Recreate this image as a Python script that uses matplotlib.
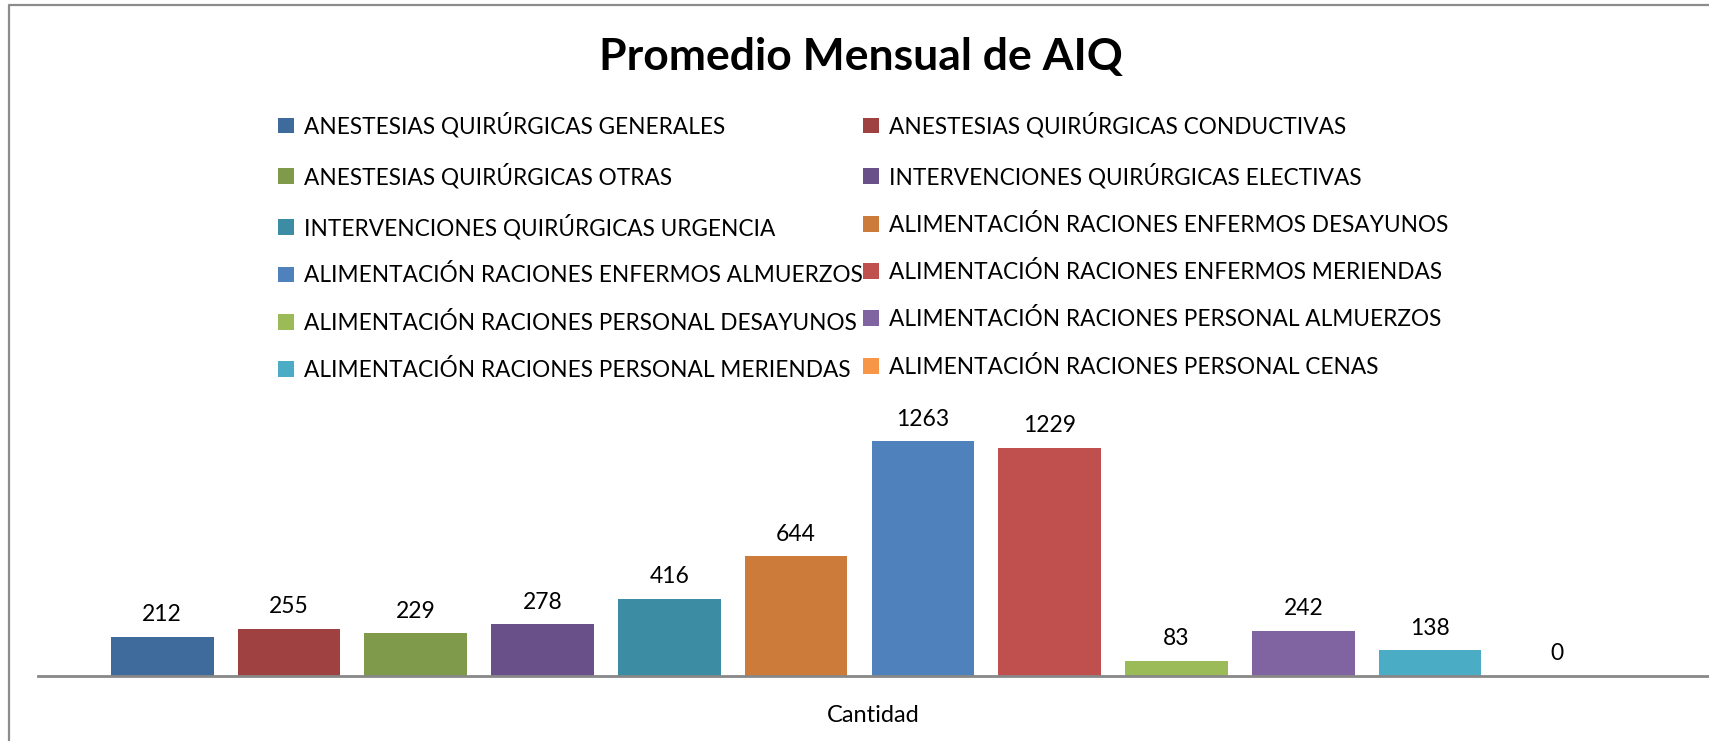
import matplotlib.pyplot as plt
from matplotlib.lines import Line2D

# Monthly averages per service line
series = [
    "ANESTESIAS QUIRÚRGICAS GENERALES",
    "ANESTESIAS QUIRÚRGICAS CONDUCTIVAS",
    "ANESTESIAS QUIRÚRGICAS OTRAS",
    "INTERVENCIONES QUIRÚRGICAS ELECTIVAS",
    "INTERVENCIONES QUIRÚRGICAS URGENCIA",
    "ALIMENTACIÓN RACIONES ENFERMOS DESAYUNOS",
    "ALIMENTACIÓN RACIONES ENFERMOS ALMUERZOS",
    "ALIMENTACIÓN RACIONES ENFERMOS MERIENDAS",
    "ALIMENTACIÓN RACIONES PERSONAL DESAYUNOS",
    "ALIMENTACIÓN RACIONES PERSONAL ALMUERZOS",
    "ALIMENTACIÓN RACIONES PERSONAL MERIENDAS",
    "ALIMENTACIÓN RACIONES PERSONAL CENAS",
]
values = [212, 255, 229, 278, 416, 644, 1263, 1229, 83, 242, 138, 0]
category = "Cantidad"

colors = ["#3F6A9C", "#9E4140", "#7F9A4A", "#6A5088", "#3C8CA3", "#CC7B3A",
          "#4F81BD", "#C0504D", "#9BBB59", "#8064A2", "#4BACC6", "#F79646"]

plt.rcParams['font.family'] = ['Lato', 'DejaVu Sans']

fig = plt.figure(figsize=(17.09, 7.41), dpi=100)
ax = fig.add_axes([0.0222, 0.0877, 0.9778, 0.385])

handles = []
for i, (name, v) in enumerate(zip(series, values)):
    b = ax.bar(i, v, width=0.81, color=colors[i], label=name)
    handles.append(b)
    ax.annotate(str(v), (i, v), xytext=(0, 16), textcoords="offset points",
                ha="center", va="center", fontsize=16.5, color="black")

ax.set_xlim(-0.98, 12.2)
ax.set_ylim(0, 1536)
for s in ["top", "right", "left"]:
    ax.spines[s].set_visible(False)
ax.spines["bottom"].set_color("#888888")
ax.spines["bottom"].set_linewidth(2)
ax.set_yticks([])
ax.set_xticks([])
ax.text(0.5, -0.139, category, transform=ax.transAxes, ha="center", va="center",
        fontsize=17)

fig.text(0.504, 0.923, "Promedio Mensual de AIQ", ha="center", va="center",
         fontsize=32, fontweight="bold")

# legend filled row by row: left column gets even series, right column odd
order = list(range(0, 12, 2)) + list(range(1, 12, 2))
leg = fig.legend([handles[k] for k in order], [series[k] for k in order],
                 ncol=2, loc="upper left", bbox_to_anchor=(0.1628, 0.849),
                 frameon=False, fontsize=16.3, handlelength=0.7,
                 handleheight=0.7, handletextpad=0.45, columnspacing=0.0,
                 labelspacing=1.12, borderaxespad=0, borderpad=0)

# outer chart border: only the top and left edges fall inside the image
x0, y0 = 8.5 / 1709, 1 - 5 / 741
fig.lines.append(Line2D([x0, x0, 1.0], [0.0, y0, y0], transform=fig.transFigure,
                        color="#8C8C8C", linewidth=1.6))

fig.savefig("out.png", dpi=100)
